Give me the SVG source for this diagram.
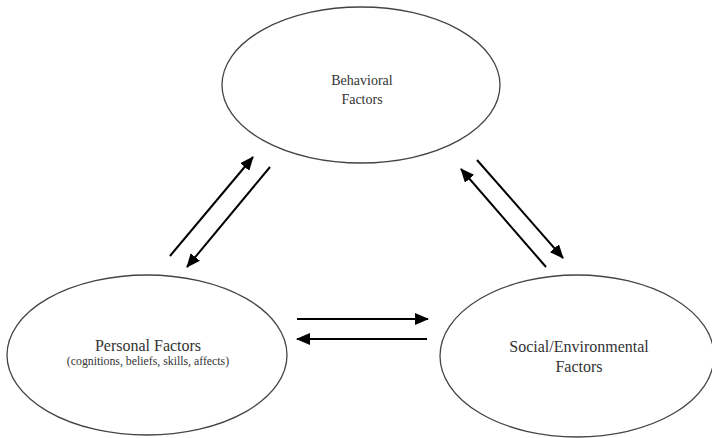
<svg xmlns="http://www.w3.org/2000/svg" width="712" height="438" viewBox="0 0 712 438">
<style>
.node ellipse{fill:#fff;stroke:#444;stroke-width:1.3}
text{font-family:"Liberation Serif","Times New Roman",serif;fill:#333;text-anchor:middle}
.conn line{stroke:#000;stroke-width:2;marker-end:url(#ah)}
</style>
<defs>
<marker id="ah" markerWidth="7" markerHeight="6" refX="6.5" refY="3" orient="auto" markerUnits="strokeWidth">
<path d="M0,0 L7,3 L0,6 Z" fill="#000"/>
</marker>
</defs>
<rect width="712" height="438" fill="#fff"/>
<g id="behavioral" class="node">
<ellipse cx="361" cy="85" rx="139" ry="78"/>
<text x="362" y="85" font-size="14">Behavioral</text>
<text x="362" y="104" font-size="14">Factors</text>
</g>
<g id="personal" class="node">
<ellipse cx="147" cy="355" rx="140" ry="80"/>
<text x="148" y="351" font-size="16">Personal Factors</text>
<text x="148" y="365" font-size="11.8">(cognitions, beliefs, skills, affects)</text>
</g>
<g id="social" class="node">
<ellipse cx="577" cy="356" rx="137" ry="81"/>
<text x="579" y="352" font-size="16">Social/Environmental</text>
<text x="579" y="372" font-size="16">Factors</text>
</g>
<g id="connectors" class="conn">
<line x1="170" y1="256" x2="253" y2="157"/>
<line x1="270" y1="167" x2="187" y2="267"/>
<line x1="546" y1="267" x2="461" y2="169"/>
<line x1="477" y1="160" x2="563" y2="258"/>
<line x1="297" y1="319" x2="428" y2="319"/>
<line x1="427" y1="339" x2="297" y2="339"/>
</g>
</svg>
